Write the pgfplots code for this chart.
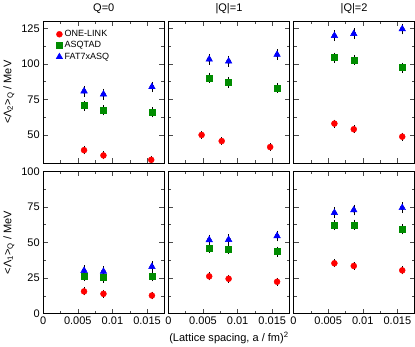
\documentclass[border=0pt]{standalone}
\usepackage{pgfplots}
\pgfplotsset{compat=1.18}
\usepgfplotslibrary{groupplots}
\usepackage{fontspec}
\setmainfont{Liberation Sans}

\definecolor{olred}{RGB}{255,0,0}
\definecolor{asgreen}{RGB}{0,140,0}
\definecolor{fatblue}{RGB}{0,0,255}

\pgfplotsset{
  set layers,
  ebar/.style={only marks, mark=none, forget plot, on layer=axis grid,
    error bars/.cd, y dir=both, y explicit,
    error mark options={black, mark size=2.5pt, line width=0.4pt},
    error bar style={black, line width=0.4pt}},
  onelink/.style={only marks, mark=*, mark size=3pt, color=olred},
  asqtad/.style={only marks, mark=square*, mark size=3pt, color=asgreen},
  fat7/.style={only marks, mark=triangle*, mark size=3.8pt, color=fatblue},
}

\begin{document}
\begin{tikzpicture}
\begin{groupplot}[
  group style={group size=3 by 2, horizontal sep=4pt, vertical sep=8pt,
    xticklabels at=edge bottom, yticklabels at=edge left},
  width=121pt, height=142pt, scale only axis,
  xmin=0, xmax=0.0175,
  scaled x ticks=false,
  xtick={0,0.005,0.01,0.015},
  xticklabels={0,0.005,0.01,0.015},
  minor x tick num=1,
  minor y tick num=1,
  tick align=inside,
  major tick length=5pt, minor tick length=3pt,
  tick style={black!70, line width=0.5pt},
  axis line style={black, line width=0.6pt},
  /pgf/number format/assume math mode=true,
  tick label style={font=\fontsize{11}{12}\selectfont},
  title style={font=\fontsize{11}{12}\selectfont, yshift=-2pt},
  label style={font=\fontsize{11}{12}\selectfont},
]
% ---- top row: Lambda_2 ----
\nextgroupplot[title={Q=0}, ymin=30, ymax=130, ytick={50,75,100,125},
  ylabel={<Λ\textsubscript{2}>\textsubscript{Q} / MeV},
  legend style={draw=none, fill=none, at={(0.08,0.965)}, anchor=north west,
    font=\fontsize{9}{10}\selectfont, row sep=-0.5pt,
    legend cell align=left}]
\addplot[ebar] coordinates {(0.0059,39.3)+-(0,1.2) (0.0087,35.6)+-(0,1.0) (0.0156,32.5)+-(0,1.0)};
\addplot[ebar] coordinates {(0.0059,70.6)+-(0,1.8) (0.0087,67.3)+-(0,1.8) (0.0157,65.9)+-(0,1.8)};
\addplot[ebar] coordinates {(0.0059,80.8)+-(0,2.0) (0.0087,78.6)+-(0,2.0) (0.0157,83.8)+-(0,2.0)};
\addplot[onelink] coordinates {(0.0059,39.3) (0.0087,35.6) (0.0156,32.5)};
\addplot[asqtad] coordinates {(0.0059,70.6) (0.0087,67.3) (0.0157,65.9)};
\addplot[fat7] coordinates {(0.0059,80.8) (0.0087,78.6) (0.0157,83.8)};
\legend{ONE-LINK, ASQTAD, FAT7xASQ}

\nextgroupplot[title={|Q|=1}, ymin=30, ymax=130, ytick={50,75,100,125}]
\addplot[ebar] coordinates {(0.0048,50.0)+-(0,1.0) (0.0077,45.7)+-(0,1.0) (0.0147,41.5)+-(0,1.0)};
\addplot[ebar] coordinates {(0.0059,90.2)+-(0,1.8) (0.0087,86.9)+-(0,1.8) (0.0157,83.1)+-(0,1.8)};
\addplot[ebar] coordinates {(0.0059,103.2)+-(0,2.0) (0.0087,101.8)+-(0,2.0) (0.0157,106.5)+-(0,2.0)};
\addplot[onelink] coordinates {(0.0048,50.0) (0.0077,45.7) (0.0147,41.5)};
\addplot[asqtad] coordinates {(0.0059,90.2) (0.0087,86.9) (0.0157,83.1)};
\addplot[fat7] coordinates {(0.0059,103.2) (0.0087,101.8) (0.0157,106.5)};

\nextgroupplot[title={|Q|=2}, ymin=30, ymax=130, ytick={50,75,100,125}]
\addplot[ebar] coordinates {(0.0059,58.0)+-(0,1.0) (0.0087,54.0)+-(0,1.0) (0.0157,48.8)+-(0,1.0)};
\addplot[ebar] coordinates {(0.0059,104.4)+-(0,1.8) (0.0087,102.8)+-(0,1.8) (0.0157,97.3)+-(0,1.8)};
\addplot[ebar] coordinates {(0.0059,119.8)+-(0,2.0) (0.0087,121.2)+-(0,2.0) (0.0157,124.5)+-(0,2.0)};
\addplot[onelink] coordinates {(0.0059,58.0) (0.0087,54.0) (0.0157,48.8)};
\addplot[asqtad] coordinates {(0.0059,104.4) (0.0087,102.8) (0.0157,97.3)};
\addplot[fat7] coordinates {(0.0059,119.8) (0.0087,121.2) (0.0157,124.5)};

% ---- bottom row: Lambda_1 ----
\nextgroupplot[ymin=0, ymax=100, ytick={0,25,50,75,100},
  ylabel={<Λ\textsubscript{1}>\textsubscript{Q} / MeV}]
\addplot[ebar] coordinates {(0.0059,15.6)+-(0,1.0) (0.0087,13.9)+-(0,1.0) (0.0157,12.7)+-(0,1.0)};
\addplot[ebar] coordinates {(0.0059,26.4)+-(0,1.8) (0.0087,25.4)+-(0,1.8) (0.0157,26.2)+-(0,1.8)};
\addplot[ebar] coordinates {(0.0059,30.2)+-(0,2.0) (0.0087,29.6)+-(0,2.0) (0.0157,33.0)+-(0,2.0)};
\addplot[onelink] coordinates {(0.0059,15.6) (0.0087,13.9) (0.0157,12.7)};
\addplot[asqtad] coordinates {(0.0059,26.4) (0.0087,25.4) (0.0157,26.2)};
\addplot[fat7] coordinates {(0.0059,30.2) (0.0087,29.6) (0.0157,33.0)};

\nextgroupplot[ymin=0, ymax=100, ytick={0,25,50,75,100},
  xlabel={(Lattice spacing, a / fm)\textsuperscript{2}}]
\addplot[ebar] coordinates {(0.0059,26.2)+-(0,1.0) (0.0087,24.5)+-(0,1.0) (0.0157,22.4)+-(0,1.0)};
\addplot[ebar] coordinates {(0.0059,46.0)+-(0,1.8) (0.0087,45.3)+-(0,1.8) (0.0157,43.6)+-(0,1.8)};
\addplot[ebar] coordinates {(0.0059,51.8)+-(0,2.0) (0.0087,52.0)+-(0,2.0) (0.0157,54.6)+-(0,2.0)};
\addplot[onelink] coordinates {(0.0059,26.2) (0.0087,24.5) (0.0157,22.4)};
\addplot[asqtad] coordinates {(0.0059,46.0) (0.0087,45.3) (0.0157,43.6)};
\addplot[fat7] coordinates {(0.0059,51.8) (0.0087,52.0) (0.0157,54.6)};

\nextgroupplot[ymin=0, ymax=100, ytick={0,25,50,75,100}]
\addplot[ebar] coordinates {(0.0059,35.4)+-(0,1.0) (0.0087,33.5)+-(0,1.0) (0.0157,30.4)+-(0,1.0)};
\addplot[ebar] coordinates {(0.0059,62.3)+-(0,1.8) (0.0087,62.5)+-(0,1.8) (0.0157,59.2)+-(0,1.8)};
\addplot[ebar] coordinates {(0.0059,70.9)+-(0,2.0) (0.0087,72.8)+-(0,2.0) (0.0157,74.4)+-(0,2.0)};
\addplot[onelink] coordinates {(0.0059,35.4) (0.0087,33.5) (0.0157,30.4)};
\addplot[asqtad] coordinates {(0.0059,62.3) (0.0087,62.5) (0.0157,59.2)};
\addplot[fat7] coordinates {(0.0059,70.9) (0.0087,72.8) (0.0157,74.4)};
\end{groupplot}
\end{tikzpicture}
\end{document}
